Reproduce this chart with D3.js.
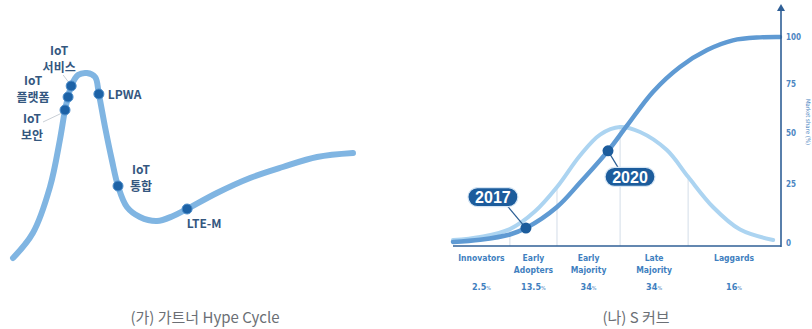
<!DOCTYPE html>
<html>
<head>
<meta charset="utf-8">
<script src="https://cdn.jsdelivr.net/npm/d3@7/dist/d3.min.js"></script>
<style>
  html, body { margin: 0; padding: 0; background: #ffffff; }
  svg { display: block; }
</style>
</head>
<body>
<svg id="chart" width="812" height="329"></svg>
<script>
// ---- Hype cycle (left panel) ----
// curve as [position along time axis, visibility]
const hypeCurve = [
  [0.3, 1], [6.1, 13.5], [11.1, 36.5], [14.0, 60], [15.5, 75], [16.4, 81.5],
  [17.3, 87], [19.3, 92.5], [21.9, 93.5], [24.3, 91.5], [25.4, 83], [27.2, 66.5],
  [29.2, 50], [31.0, 37], [33.6, 26.5], [37.4, 21.5], [42.4, 19.5], [47.1, 22],
  [51.2, 25.5], [59.9, 33.5], [69.6, 41], [79.2, 46.5], [89.2, 51.5], [99.7, 53.5]
];
const hypeTechs = ["IoT 보안", "IoT 플랫폼", "IoT 서비스", "LPWA", "IoT 통합", "LTE-M"];
const hypeTechX = [15.5, 16.4, 17.3, 25.4, 31.0, 51.2];
const hypeTechY = [75, 81.5, 87, 83, 37, 25.5];

// ---- Diffusion / S curve (right panel) ----
const adoptionGroups = ["Innovators", "Early Adopters", "Early Majority", "Late Majority", "Laggards"];
const adoptionShares = ["2.5", "13.5", "34", "34", "16"];
const groupBounds = [0, 17.4, 31.8, 51.1, 71.9, 100];
const bellCurve = [
  [0, 0.9], [8.3, 2.0], [17.4, 5.0], [25.1, 12.5], [31.8, 23.5], [38.8, 38.5],
  [45, 49], [51.1, 52.8], [57.2, 50.3], [65.4, 41.3], [71.9, 28.3],
  [79.5, 14.4], [87.8, 4.8], [97.9, 0.9]
];
const sCurve = [
  [0, 0.3], [8.3, 1.0], [17.4, 2.9], [22.3, 5.4], [31.8, 14.4], [38.8, 25.5], [47.4, 40.9],
  [53.2, 53.5], [61.2, 71], [69.4, 84], [77.7, 93], [85.6, 98.2], [93.9, 99.8], [100, 100]
];
const milestoneYears = ["2017", "2020"];
const milestoneX = [22.3, 47.4];
const milestoneY = [5.4, 40.9];
const shareTicks = [0, 25, 50, 75, 100];

const svg = d3.select("#chart");

// soft edge used on the drawn strokes
const defs = svg.append("defs");
defs.append("filter").attr("id", "soft")
  .append("feGaussianBlur").attr("stdDeviation", 0.6);

const kr = "'Noto Sans CJK KR', 'Noto Sans', sans-serif";
const narrow = "'DejaVu Sans Condensed', 'Liberation Sans Narrow', sans-serif";

// ================= left: hype cycle =================
const hx = d3.scaleLinear().domain([0, 100]).range([12, 354]);
const hy = d3.scaleLinear().domain([0, 100]).range([260, 60]);

const hypeLine = d3.line()
  .x(d => hx(d[0])).y(d => hy(d[1]))
  .curve(d3.curveCatmullRom.alpha(0.5));

const left = svg.append("g");
left.append("path")
  .datum(hypeCurve)
  .attr("d", hypeLine)
  .attr("fill", "none")
  .attr("stroke", "#80b5e2")
  .attr("stroke-width", 6)
  .attr("stroke-linecap", "round")
  .attr("filter", "url(#soft)");

// label placement around each marker: [dx, first baseline dy, anchor]
const techPlacement = {
  "IoT 보안":   { dx: -33, dy: 13, anchor: "middle", leader: [-22, 12, -3, 3] },
  "IoT 플랫폼": { dx: -35, dy: -12, anchor: "middle" },
  "IoT 서비스": { dx: -12, dy: -31, anchor: "middle", leader: [-8, -11, -2, -3] },
  "LPWA":       { dx: 9, dy: 5, anchor: "start" },
  "IoT 통합":   { dx: 23, dy: -12, anchor: "middle" },
  "LTE-M":      { dx: 17, dy: 19, anchor: "middle" }
};

hypeTechs.forEach((name, i) => {
  const cx = hx(hypeTechX[i]), cy = hy(hypeTechY[i]);
  const p = techPlacement[name];
  if (p.leader) {
    left.append("line")
      .attr("x1", cx + p.leader[0]).attr("y1", cy + p.leader[1])
      .attr("x2", cx + p.leader[2]).attr("y2", cy + p.leader[3])
      .attr("stroke", "#c9cfd6").attr("stroke-width", 1);
  }
  left.append("circle")
    .attr("cx", cx).attr("cy", cy).attr("r", 5)
    .attr("fill", "#1d62a6")
    .attr("stroke", "#4f8fcb").attr("stroke-width", 1);

  const parts = name.split(" ");
  const t = left.append("text")
    .attr("x", cx + p.dx).attr("y", cy + p.dy)
    .attr("text-anchor", p.anchor)
    .attr("font-family", kr)
    .attr("font-weight", 700)
    .attr("font-size", 12)
    .attr("fill", "#34577f");
  if (parts.length === 1) {
    t.text(name);
  } else {
    t.append("tspan").attr("x", cx + p.dx).text(parts[0]);
    t.append("tspan").attr("x", cx + p.dx).attr("dy", 17).text(parts[1]);
  }
});

svg.append("text")
  .attr("x", 205).attr("y", 323)
  .attr("text-anchor", "middle")
  .attr("font-family", kr)
  .attr("font-size", 15)
  .attr("fill", "#6b6f75")
  .text("(가) 가트너 Hype Cycle");

// ================= right: adoption S curve =================
const sx = d3.scaleLinear().domain([0, 100]).range([453, 780]);
const sy = d3.scalePow().exponent(0.9).domain([0, 100]).range([243, 37]);
const axisY = 246;
const axisX = 781;

const right = svg.append("g");

// dividers between adopter groups, up to the bell curve
const bellAt = x => {
  const p = bellCurve.find(d => d[0] === x);
  return p ? p[1] : 0;
};
groupBounds.slice(1, -1).forEach(b => {
  right.append("line")
    .attr("x1", sx(b)).attr("x2", sx(b))
    .attr("y1", axisY).attr("y2", sy(bellAt(b)))
    .attr("stroke", "#d3dde8").attr("stroke-width", 1);
});

const sLine = d3.line()
  .x(d => sx(d[0])).y(d => sy(d[1]))
  .curve(d3.curveCatmullRom.alpha(0.5));

right.append("path")
  .datum(bellCurve)
  .attr("d", sLine)
  .attr("fill", "none")
  .attr("stroke", "#acd4f1")
  .attr("stroke-width", 4)
  .attr("stroke-linecap", "round")
  .attr("filter", "url(#soft)");

right.append("path")
  .datum(sCurve)
  .attr("d", sLine)
  .attr("fill", "none")
  .attr("stroke", "#5e9ad3")
  .attr("stroke-width", 4.5)
  .attr("stroke-linecap", "round")
  .attr("filter", "url(#soft)");

// axes
right.append("line")
  .attr("x1", 453).attr("x2", axisX)
  .attr("y1", axisY).attr("y2", axisY)
  .attr("stroke", "#2f5f96").attr("stroke-width", 1.6);
right.append("line")
  .attr("x1", axisX).attr("x2", axisX)
  .attr("y1", axisY + 1).attr("y2", 10)
  .attr("stroke", "#2f5f96").attr("stroke-width", 1.6);
right.append("path")
  .attr("d", `M${axisX - 4},11 L${axisX},4 L${axisX + 4},11 Z`)
  .attr("fill", "#2f5f96");

const yAxis = d3.axisRight(sy).tickValues(shareTicks).tickSize(0).tickPadding(5);
const yg = right.append("g")
  .attr("transform", `translate(${axisX},0)`)
  .call(yAxis);
yg.select(".domain").remove();
yg.selectAll("text")
  .attr("font-family", narrow)
  .attr("font-size", 8)
  .attr("font-weight", 700)
  .attr("fill", "#4d86c2");

right.append("text")
  .attr("transform", "translate(806,122) rotate(90)")
  .attr("text-anchor", "middle")
  .attr("font-family", narrow)
  .attr("font-size", 6)
  .attr("fill", "#4d86c2")
  .text("Market share (%)");

// adopter group labels and shares
adoptionGroups.forEach((g, i) => {
  const cx = sx((groupBounds[i] + groupBounds[i + 1]) / 2);
  const words = g.split(" ");
  const t = right.append("text")
    .attr("x", cx).attr("y", 261)
    .attr("text-anchor", "middle")
    .attr("font-family", narrow)
    .attr("font-size", 8.5)
    .attr("font-weight", 700)
    .attr("fill", "#3f7fc0");
  words.forEach((w, j) => {
    t.append("tspan").attr("x", cx).attr("dy", j === 0 ? 0 : 12).text(w);
  });
  const s = right.append("text")
    .attr("x", cx).attr("y", 290)
    .attr("text-anchor", "middle")
    .attr("font-family", narrow)
    .attr("font-size", 9)
    .attr("font-weight", 700)
    .attr("fill", "#3f7fc0");
  s.append("tspan").text(adoptionShares[i]);
  s.append("tspan").attr("font-size", 5.5).attr("font-weight", 400).text("%");
});

// milestone callouts on the S curve: [pill center dx, dy]
const calloutOffset = { "2017": [-33, -31], "2020": [22, 26] };
milestoneYears.forEach((yr, i) => {
  const cx = sx(milestoneX[i]), cy = sy(milestoneY[i]);
  const [dx, dy] = calloutOffset[yr];
  const px = cx + dx, py = cy + dy;
  const w = 50, h = 19;
  const lx = dy < 0 ? px + 15 : px - 12;
  const ly = dy < 0 ? py + h / 2 : py - h / 2;
  right.append("line")
    .attr("x1", lx).attr("y1", ly)
    .attr("x2", cx).attr("y2", cy)
    .attr("stroke", "#2c5f95").attr("stroke-width", 1.2);
  right.append("circle")
    .attr("cx", cx).attr("cy", cy).attr("r", 5.5)
    .attr("fill", "#1c5c9c");
  right.append("rect")
    .attr("x", px - w / 2).attr("y", py - h / 2)
    .attr("width", w).attr("height", h)
    .attr("rx", 9.5).attr("ry", 9.5)
    .attr("fill", "#1c5c9c")
    .attr("stroke", "#d6e6f5").attr("stroke-width", 1.2);
  right.append("text")
    .attr("x", px).attr("y", py + 6)
    .attr("text-anchor", "middle")
    .attr("font-family", "'Liberation Sans', Arial, sans-serif")
    .attr("font-weight", 700)
    .attr("font-size", 16)
    .attr("fill", "#ffffff")
    .text(yr);
});

svg.append("text")
  .attr("x", 636).attr("y", 323)
  .attr("text-anchor", "middle")
  .attr("font-family", kr)
  .attr("font-size", 15)
  .attr("fill", "#6b6f75")
  .text("(나) S 커브");
</script>
</body>
</html>
